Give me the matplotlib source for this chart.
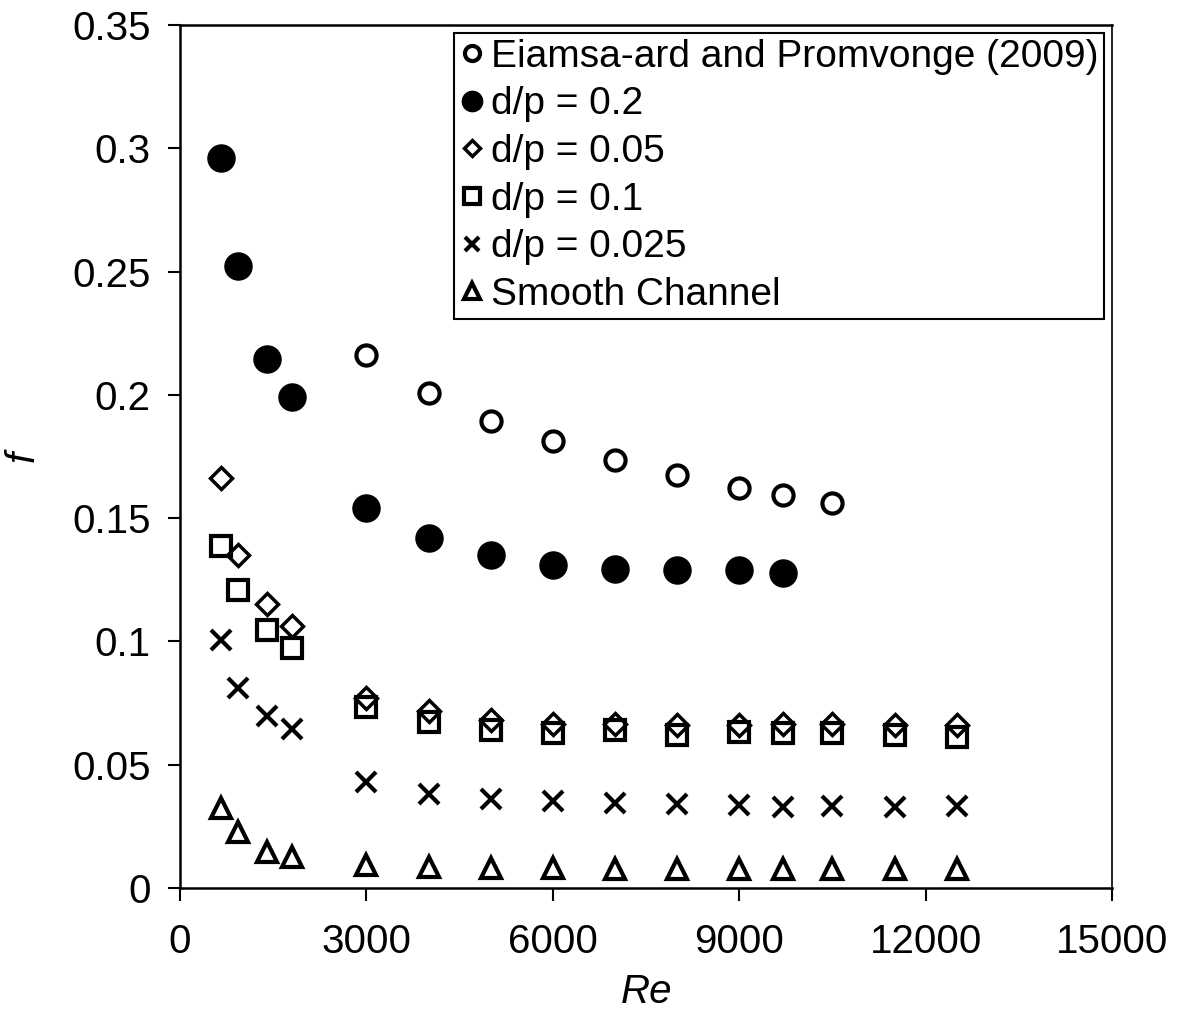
import matplotlib.pyplot as plt

plt.rcParams['font.family'] = ['Liberation Sans', 'DejaVu Sans']

# Reynolds numbers
re_ref = [3000, 4000, 5000, 6000, 7000, 8000, 9000, 9700, 10500]
re_02 = [660, 930, 1400, 1800, 3000, 4000, 5000, 6000, 7000, 8000, 9000, 9700]
re_all = [660, 930, 1400, 1800, 3000, 4000, 5000, 6000, 7000, 8000, 9000,
          9700, 10500, 11500, 12500]

# friction factors
f_ref = [0.216, 0.2007, 0.1894, 0.1813, 0.1736, 0.1675, 0.1622, 0.1594, 0.1561]
f_02 = [0.296, 0.2522, 0.2145, 0.1991, 0.1541, 0.1419, 0.135, 0.131, 0.1294,
        0.129, 0.129, 0.1278]
f_005 = [0.1663, 0.135, 0.1152, 0.1062, 0.0769, 0.0719, 0.0683, 0.0665, 0.0665,
         0.0662, 0.0661, 0.0665, 0.0665, 0.0662, 0.0662]
f_01 = [0.1388, 0.1208, 0.1046, 0.0974, 0.0735, 0.0675, 0.0639, 0.0628, 0.0639,
        0.0622, 0.0634, 0.0628, 0.0628, 0.0619, 0.0612]
f_0025 = [0.1006, 0.0812, 0.0699, 0.0646, 0.0431, 0.0381, 0.0361, 0.0354, 0.0343,
          0.0341, 0.0337, 0.033, 0.0334, 0.033, 0.0334]
f_smooth = [0.0323, 0.0228, 0.0147, 0.0127, 0.0092, 0.0085, 0.0082, 0.008, 0.0077,
            0.0077, 0.0075, 0.0075, 0.0075, 0.0075, 0.0075]

fig = plt.figure(figsize=(11.8, 10.16), dpi=100)
ax = fig.add_axes([0.1525, 0.126, 0.79, 0.8494])

ax.plot(re_ref, f_ref, 'o', ls='none', ms=14.5, mfc='none', mec='black', mew=3,
        label='Eiamsa-ard and Promvonge (2009)')
ax.plot(re_02, f_02, 'o', ls='none', ms=19.5, mfc='black', mec='black',
        label='d/p = 0.2')
ax.plot(re_all, f_005, 'D', ls='none', ms=11, mfc='none', mec='black', mew=2.5,
        label='d/p = 0.05')
ax.plot(re_all, f_01, 's', ls='none', ms=15, mfc='none', mec='black', mew=3,
        label='d/p = 0.1')
ax.plot(re_all, f_0025, 'x', ls='none', ms=14, mec='black', mew=3,
        label='d/p = 0.025')
ax.plot(re_all, f_smooth, '^', ls='none', ms=15, mfc='none', mec='black', mew=3,
        label='Smooth Channel')

ax.set_xlim(0, 15000)
ax.set_ylim(0, 0.35)
ax.set_xticks(range(0, 15001, 3000))
ax.set_yticks([0, 0.05, 0.1, 0.15, 0.2, 0.25, 0.3, 0.35])
ax.set_yticklabels(['0', '0.05', '0.1', '0.15', '0.2', '0.25', '0.3', '0.35'])
ax.tick_params(direction='out', length=9, width=1.5, labelsize=29)
ax.tick_params(axis='y', pad=12)
ax.tick_params(axis='x', pad=16)

for side in ['left', 'bottom', 'top']:
    ax.spines[side].set_linewidth(1.8)
ax.spines['right'].set_linewidth(1.2)

ax.set_xlabel('Re', fontsize=29, style='italic', labelpad=9)
ax.set_ylabel('f', fontsize=29, style='italic', labelpad=22)

leg = ax.legend(loc='upper right', fontsize=28, frameon=True, fancybox=False,
                edgecolor='black', framealpha=1, borderaxespad=0.2,
                handlelength=0.6, handletextpad=0.2, labelspacing=0.3,
                borderpad=0.15, markerscale=0.75)
leg.get_frame().set_linewidth(1.5)

fig.savefig('out.png', dpi=100)
